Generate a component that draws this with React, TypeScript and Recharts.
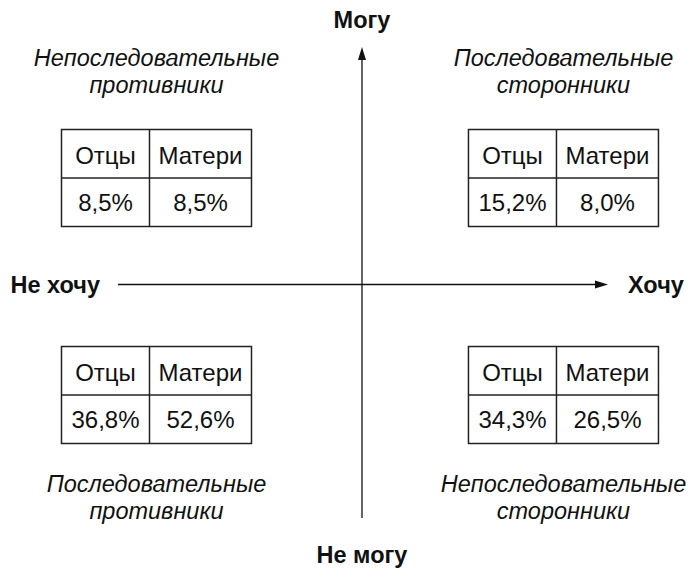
import React from "react";
import { ScatterChart, Scatter, XAxis, YAxis, ReferenceLine } from "recharts";

// quadrant data: want = -1 (не хочу) / 1 (хочу), can = -1 (не могу) / 1 (могу)
const wantSide = [-1, 1, -1, 1];
const canSide = [1, 1, -1, -1];
const quadrantTitles = [
  ["Непоследовательные", "противники"],
  ["Последовательные", "сторонники"],
  ["Последовательные", "противники"],
  ["Непоследовательные", "сторонники"],
];
const fathers = [8.5, 15.2, 36.8, 34.3];
const mothers = [8.5, 8.0, 52.6, 26.5];
const columnHeaders = ["Отцы", "Матери"];
const axisLabels = { can: "Могу", cannot: "Не могу", want: "Хочу", notWant: "Не хочу" };

const FONT = "'Liberation Sans', Arial, Helvetica, sans-serif";

const fmt = (v: number) => v.toFixed(1).replace(".", ",") + "%";

const data = wantSide.map((w, i) => ({
  want: w,
  can: canSide[i],
  title: quadrantTitles[i],
  fathers: fathers[i],
  mothers: mothers[i],
}));

const TABLE_W = 190;
const COL1 = 88;
const ROW_H = 48.5;

const QuadrantTable = (props: any) => {
  const { cx, cy, payload } = props;
  const mid = cx - 2;
  const left = mid - TABLE_W / 2;
  const top = cy - ROW_H + 2;
  const bottom = top + ROW_H * 2;
  const above = payload.can > 0;
  const c1 = left + COL1 / 2;
  const c2 = left + COL1 + (TABLE_W - COL1) / 2;
  const titleY = above ? [top - 64, top - 37] : [bottom + 48, bottom + 75];
  return (
    <g fontFamily={FONT}>
      <rect x={left} y={top} width={TABLE_W} height={ROW_H * 2} fill="#fff" stroke="#222" strokeWidth={1.5} />
      <line x1={left + COL1} y1={top} x2={left + COL1} y2={bottom} stroke="#222" strokeWidth={1.5} />
      <line x1={left} y1={top + ROW_H} x2={left + TABLE_W} y2={top + ROW_H} stroke="#222" strokeWidth={1.5} />
      <text x={c1} y={top + 34} textAnchor="middle" fontSize={24} fill="#111">{columnHeaders[0]}</text>
      <text x={c2} y={top + 34} textAnchor="middle" fontSize={24} fill="#111">{columnHeaders[1]}</text>
      <text x={c1} y={top + ROW_H + 33} textAnchor="middle" fontSize={24} fill="#111">{fmt(payload.fathers)}</text>
      <text x={c2} y={top + ROW_H + 33} textAnchor="middle" fontSize={24} fill="#111">{fmt(payload.mothers)}</text>
      {payload.title.map((t: string, k: number) => (
        <text key={k} x={mid} y={titleY[k]} textAnchor="middle" fontSize={23.5} fontStyle="italic" fill="#111">{t}</text>
      ))}
    </g>
  );
};

const HorizontalAxis = (props: any) => {
  const { x1, y1, x2 } = props;
  return (
    <g fontFamily={FONT}>
      <line x1={x1} y1={y1} x2={x2 - 10} y2={y1} stroke="#111" strokeWidth={1.3} />
      <polygon points={`${x2},${y1} ${x2 - 13},${y1 - 4} ${x2 - 13},${y1 + 4}`} fill="#111" />
      <text x={x1 - 18} y={y1 + 8} textAnchor="end" fontSize={23.5} fontWeight="bold" fill="#111">{axisLabels.notWant}</text>
      <text x={x2 + 20} y={y1 + 8} textAnchor="start" fontSize={23.5} fontWeight="bold" fill="#111">{axisLabels.want}</text>
    </g>
  );
};

const VerticalAxis = (props: any) => {
  const { x1, y1, y2 } = props;
  const top = Math.min(y1, y2);
  const bottom = Math.max(y1, y2);
  return (
    <g fontFamily={FONT}>
      <line x1={x1} y1={top + 10} x2={x1} y2={bottom} stroke="#111" strokeWidth={1.3} />
      <polygon points={`${x1},${top} ${x1 - 4},${top + 13} ${x1 + 4},${top + 13}`} fill="#111" />
      <text x={x1} y={top - 19} textAnchor="middle" fontSize={23.5} fontWeight="bold" fill="#111">{axisLabels.can}</text>
      <text x={x1} y={bottom + 45} textAnchor="middle" fontSize={23.5} fontWeight="bold" fill="#111">{axisLabels.cannot}</text>
    </g>
  );
};

export default function App() {
  return (
    <div style={{ position: "absolute", left: 0, top: 0, background: "#fff" }}>
      <ScatterChart width={688} height={570} margin={{ top: 47, right: 80, bottom: 52, left: 118 }}>
        <XAxis type="number" dataKey="want" domain={[-1.199, 1.209]} hide />
        <YAxis type="number" dataKey="can" domain={[-2.152, 2.189]} hide />
        <ReferenceLine y={0} shape={HorizontalAxis} />
        <ReferenceLine x={0} shape={VerticalAxis} />
        <Scatter data={data} shape={QuadrantTable} isAnimationActive={false} />
      </ScatterChart>
    </div>
  );
}
